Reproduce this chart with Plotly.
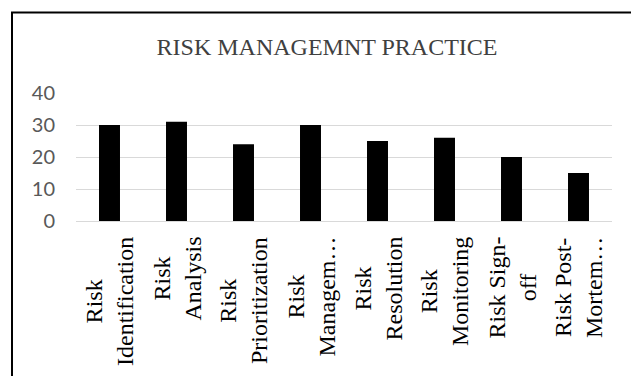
import plotly.graph_objects as go

categories = ["Risk Identification", "Risk Analysis", "Risk Prioritization",
              "Risk Management", "Risk Resolution", "Risk Monitoring",
              "Risk Sign-off", "Risk Post-Mortem"]
values = [30, 31, 24, 30, 25, 26, 20, 15]
tick_labels = ["Risk<br>Identification", "Risk<br>Analysis", "Risk<br>Prioritization",
               "Risk<br>Managem…", "Risk<br>Resolution", "Risk<br>Monitoring",
               "Risk Sign-<br>off", "Risk Post-<br>Mortem…"]
y_ticks = [0, 10, 20, 30, 40]

W, H = 631, 376
L, R, T, B = 76, 19, 93, 155
pw, ph = W - L - R, H - T - B


def px_x(p):
    return (p - L) / pw


def px_y(p):
    return (H - B - p) / ph


fig = go.Figure()
fig.add_trace(go.Bar(x=categories, y=values, width=0.313,
                     marker=dict(color="#000000", line=dict(width=0))))

annotations = []
for cat, lab in zip(categories, tick_labels):
    annotations.append(dict(
        x=cat, xref="x", y=px_y(235), yref="paper",
        text=lab, showarrow=False, textangle=-90,
        xanchor="center", yanchor="top", align="center",
        font=dict(family="Liberation Serif", size=24, color="#000000"),
    ))

fig.update_layout(
    width=W, height=H,
    margin=dict(l=L, r=R, t=T, b=B),
    paper_bgcolor="white", plot_bgcolor="white",
    showlegend=False,
    title=dict(text="RISK MANAGEMNT PRACTICE", x=327 / W, xanchor="center",
               y=1 - 47 / H, yanchor="middle",
               font=dict(family="Liberation Serif", size=24, color="#404040")),
    xaxis=dict(type="category", showticklabels=False, showgrid=False,
               showline=False, zeroline=False, ticks=""),
    yaxis=dict(range=[0, 40], tickvals=y_ticks, showgrid=True,
               gridcolor="#d9d9d9", gridwidth=1.3, zeroline=True,
               zerolinecolor="#d9d9d9", zerolinewidth=1.3, showline=False,
               ticks="", ticklabelstandoff=20,
               tickfont=dict(family="Lato", size=20, color="#595959")),
    annotations=annotations,
    shapes=[dict(type="rect", xref="paper", yref="paper",
                 x0=px_x(12), x1=px_x(640), y0=px_y(390), y1=px_y(12.5),
                 line=dict(color="#000000", width=2), fillcolor="rgba(0,0,0,0)",
                 layer="above")],
)

fig.write_html("out.html")
